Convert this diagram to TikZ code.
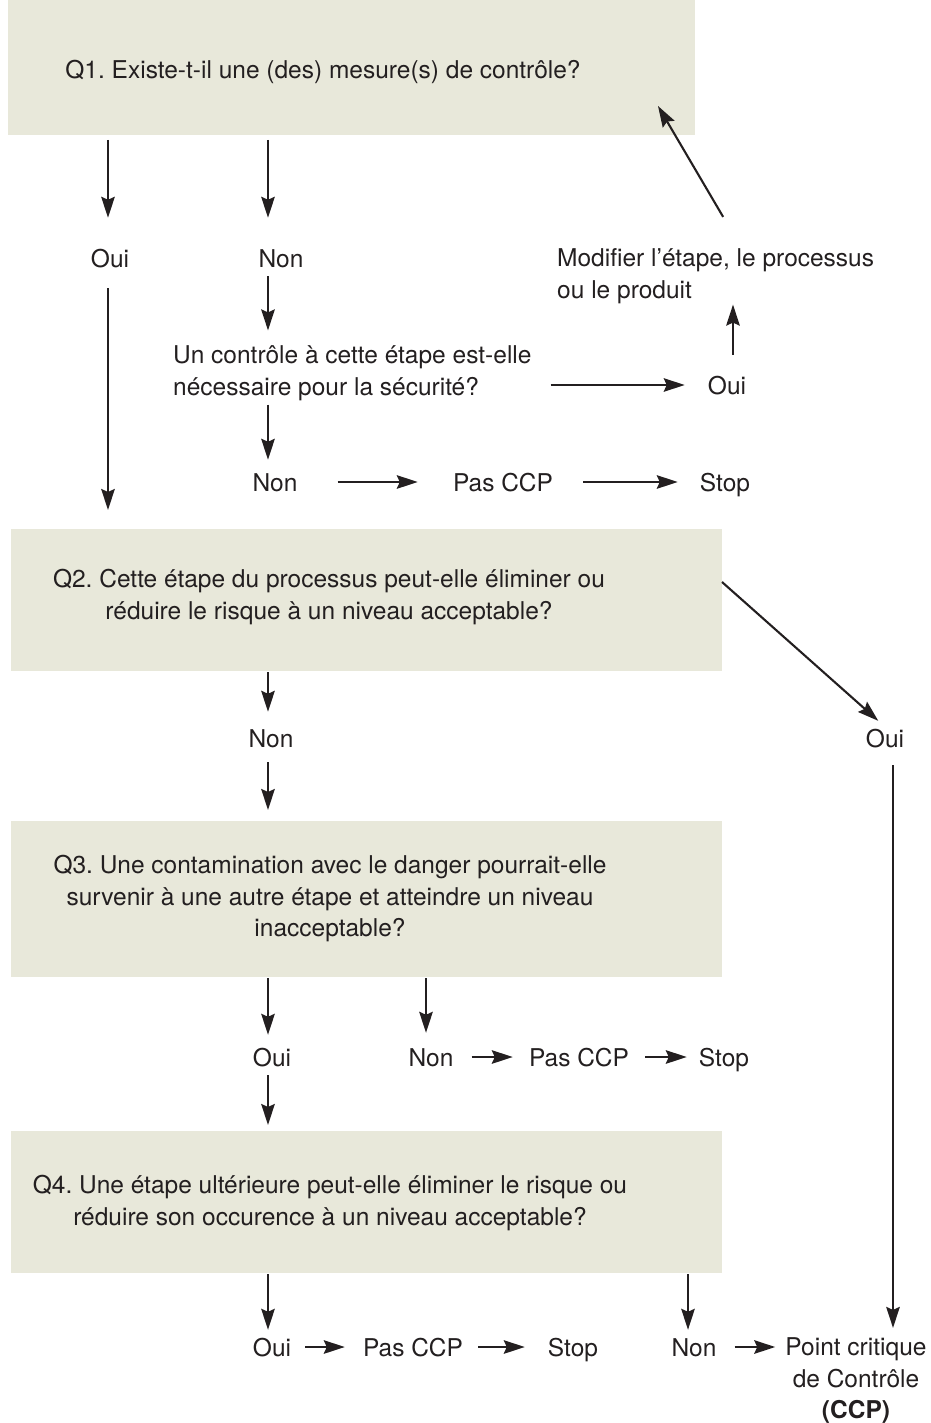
\documentclass[tikz,border=0pt]{standalone}
\usepackage{fontspec}
\setmainfont{TeX Gyre Heros}
\usetikzlibrary{arrows.meta}
\definecolor{ink}{HTML}{231F20}
\definecolor{qfill}{HTML}{E8E8DA}
\frenchspacing
\begin{document}
\begin{tikzpicture}[x=1pt,y=-1pt,
  every node/.style={text=ink, font=\fontsize{24.5}{31.5}\selectfont},
  qbox/.style={fill=qfill, draw=none, anchor=north west, inner sep=0pt, outer sep=0pt},
  lbl/.style={inner sep=0pt, text height=20pt, text depth=2pt},
  multi/.style={inner sep=0pt},
  arr/.style={draw=ink, line width=2.1pt, -{Stealth[length=21pt,width=13.5pt,inset=3pt]}}]

\useasboundingbox (0,0) rectangle (930,1423);

% question boxes
\node[qbox, minimum width=687pt, minimum height=135pt] (q1) at (8,0) {};
\node[qbox, minimum width=711pt, minimum height=142pt] (q2) at (11,529) {};
\node[qbox, minimum width=711pt, minimum height=156pt] (q3) at (11,821) {};
\node[qbox, minimum width=711pt, minimum height=142pt] (q4) at (11,1131) {};

% question texts
\node[multi, align=center] (q1t) at (323,72) {Q1. Existe-t-il une (des) mesure(s) de contrôle?};
\node[multi, align=center] (q2t) at (329,597) {Q2. Cette étape du processus peut-elle éliminer ou\\réduire le risque à un niveau acceptable?};
\node[multi, align=center] (q3t) at (330,899) {Q3. Une contamination avec le danger pourrait-elle\\survenir à une autre étape et atteindre un niveau\\inacceptable?};
\node[multi, align=center] (q4t) at (330,1203) {Q4. Une étape ultérieure peut-elle éliminer le risque ou\\réduire son occurence à un niveau acceptable?};

% columns of the vertical connectors
\coordinate (cA) at (108,0);
\coordinate (cB) at (268,0);
\coordinate (cC) at (426,0);
\coordinate (cD) at (688,0);
\coordinate (cE) at (733,0);
\coordinate (cF) at (893,0);

% answers after Q1
\node[lbl] (oui1) at (110,258) {Oui};
\node[lbl] (non1) at (281,258) {Non};
\node[multi, align=left, anchor=west] (ctrl) at (173,373) {Un contrôle à cette étape est-elle\\nécessaire pour la sécurité?};
\node[lbl] (oui2) at (727,385) {Oui};
\node[multi, align=left, anchor=west] (modif) at (557,276) {Modifier l’étape, le processus\\ou le produit};
\node[lbl] (non2) at (275,482) {Non};
\node[lbl] (pas1) at (503,482) {Pas CCP};
\node[lbl] (stop1) at (725,482) {Stop};

% answers after Q2
\node[lbl] (non3) at (271,738) {Non};
\node[lbl] (oui3) at (885,738) {Oui};

% answers after Q3
\node[lbl] (oui4) at (272,1057) {Oui};
\node[lbl] (non4) at (431,1057) {Non};
\node[lbl] (pas2) at (579,1057) {Pas CCP};
\node[lbl] (stop2) at (724,1057) {Stop};

% answers after Q4
\node[lbl] (oui5) at (272,1347) {Oui};
\node[lbl] (pas3) at (413,1347) {Pas CCP};
\node[lbl] (stop3) at (573,1347) {Stop};
\node[lbl] (non5) at (694,1347) {Non};
\node[multi, align=center] (ccp) at (856,1381) {Point critique\\de Contrôle\\\textbf{(CCP)}};

% connectors from Q1
\draw[arr, shorten <=5pt, shorten >=29pt] (q1.south -| cA) -- (oui1.north -| cA);
\draw[arr, shorten <=5pt, shorten >=29pt] (q1.south -| cB) -- (non1.north -| cB);
\draw[arr, shorten <=19pt, shorten >=19pt] (oui1.south -| cA) -- (q2.north -| cA);
\draw[arr, shorten <=7pt, shorten >=15pt] (non1.south -| cB) -- (ctrl.north -| cB);
\draw[arr, shorten <=4pt, shorten >=11pt] (ctrl.south -| cB) -- (non2.north -| cB);
\draw[arr, shorten <=19pt, shorten >=23pt] (ctrl.east |- oui2) -- (oui2.west);
\draw[arr, shorten <=19pt, shorten >=1pt] (oui2.north -| cE) -- (modif.south -| cE);
\draw[arr] ([shift={(7.5,-31.5)}]modif.north) -- ([shift={(-37,-29)}]q1.south east);
\draw[arr, shorten <=40pt, shorten >=35pt] (non2) -- (pas1);
\draw[arr, shorten <=30pt, shorten >=22pt] (pas1) -- (stop1);

% connectors from Q2
\draw[arr, shorten <=1pt, shorten >=15pt] (q2.south -| cB) -- (non3.north -| cB);
\draw[arr, shorten <=13pt, shorten >=11pt] (non3.south -| cB) -- (q3.north -| cB);
\draw[arr, shorten >=9pt] ([yshift=18pt]q2.east) -- (oui3.north);
\draw[arr, shorten <=16pt, shorten >=10pt] (oui3.south -| cF) -- (ccp.north -| cF);

% connectors from Q3
\draw[arr, shorten <=1pt, shorten >=11pt] (q3.south -| cB) -- (oui4.north -| cB);
\draw[arr, shorten <=1pt, shorten >=13pt] (q3.south -| cC) -- (non4.north -| cC);
\draw[arr, shorten <=18pt, shorten >=16pt] (non4) -- (pas2);
\draw[arr, shorten <=16pt, shorten >=12pt] (pas2) -- (stop2);
\draw[arr, shorten <=7pt, shorten >=6pt] (oui4.south -| cB) -- (q4.north -| cB);

% connectors from Q4
\draw[arr, shorten <=1pt, shorten >=6pt] (q4.south -| cB) -- (oui5.north -| cB);
\draw[arr, shorten <=1pt, shorten >=6pt] (q4.south -| cD) -- (non5.north -| cD);
\draw[arr, shorten <=14pt, shorten >=18pt] (oui5) -- (pas3);
\draw[arr, shorten <=15pt, shorten >=23pt] (pas3) -- (stop3);
\draw[arr, shorten <=18pt, shorten >=10pt] (non5) -- (non5 -| ccp.west);
\end{tikzpicture}
\end{document}
